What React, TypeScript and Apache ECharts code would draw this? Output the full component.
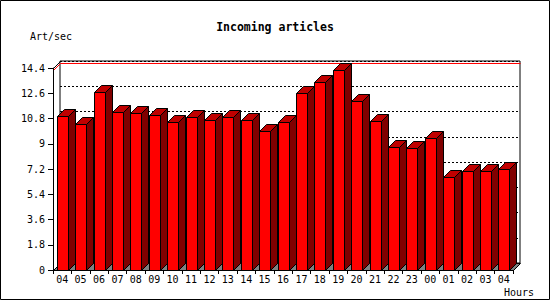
import React, { useEffect, useRef } from "react";
import * as echarts from "echarts";

const hours = ["04","05","06","07","08","09","10","11","12","13","14","15","16","17","18","19","20","21","22","23","00","01","02","03","04"];
const artPerSec = [10.98,10.39,12.67,11.24,11.17,11.03,10.55,10.89,10.67,10.89,10.67,9.89,10.53,12.6,13.38,14.24,12.03,10.6,8.75,8.68,9.39,6.65,7.08,7.08,7.22];
const yTicks = ["0","1.8","3.6","5.4","7.2","9","10.8","12.6","14.4"];
const titleText = "Incoming articles";
const yName = "Art/sec";
const xName = "Hours";

const DX = 7;
const DY = -7;
const MONO = "'DejaVu Sans Mono', 'Liberation Mono', monospace";

const px = (v: number) => Math.round(v) + 0.5;

export default function App() {
  const ref = useRef<HTMLDivElement>(null);
  useEffect(() => {
    const chart = echarts.init(ref.current!, null, { renderer: "svg" });
    const maxVal = Math.max(...artPerSec);
    const option: any = {
      animation: false,
      backgroundColor: "#fff",
      grid: [
        { left: 53, top: 68, width: 460, height: 202, containLabel: false },
        { left: 60, top: 61, width: 460, height: 202, show: true, borderColor: "#000", borderWidth: 1, backgroundColor: "transparent", z: 0 },
      ],
      xAxis: [
        {
          type: "category", gridIndex: 0, data: hours, boundaryGap: true, z: 10,
          axisLine: { show: true, lineStyle: { color: "#000", width: 1 } },
          axisTick: { show: true, length: 4, lineStyle: { color: "#000" }, interval: 0 },
          axisLabel: { interval: 0, color: "#000", fontFamily: MONO, fontSize: 10, margin: 4 },
          splitLine: { show: false },
        },
        {
          type: "category", gridIndex: 1, data: hours, boundaryGap: true, show: false,
        },
      ],
      yAxis: [
        {
          type: "value", gridIndex: 0, min: 0, max: 14.4, interval: 1.8, z: 10,
          axisLine: { show: true, lineStyle: { color: "#000", width: 1 } },
          axisTick: { show: true, length: 5, lineStyle: { color: "#000" } },
          axisLabel: {
            color: "#000", fontFamily: MONO, fontSize: 10, margin: 8,
            formatter: (v: number) => yTicks[Math.round(v / 1.8)] ?? String(v),
          },
          splitLine: { show: false },
        },
        {
          type: "value", gridIndex: 1, min: 0, max: 14.4, interval: 1.8,
          axisLine: { show: false }, axisTick: { show: false }, axisLabel: { show: false },
          splitLine: { show: true, lineStyle: { color: "#000", width: 1, type: [2, 2] } },
        },
      ],
      graphic: [
        { type: "rect", shape: { x: 0.5, y: 0.5, width: 549, height: 299 }, style: { fill: "none", stroke: "#000", lineWidth: 1 }, z: 100 },
        { type: "text", x: 275, y: 27, style: { text: titleText, fontFamily: MONO, fontWeight: "bold", fontSize: 11.5, fill: "#000", textAlign: "center", textVerticalAlign: "middle" } },
        { type: "text", x: 30, y: 36, style: { text: yName, fontFamily: MONO, fontSize: 10, fill: "#000", textAlign: "left", textVerticalAlign: "middle" } },
        { type: "text", x: 504, y: 292, style: { text: xName, fontFamily: MONO, fontSize: 10, fill: "#000", textAlign: "left", textVerticalAlign: "middle" } },
      ],
      series: [
        {
          type: "custom", xAxisIndex: 0, yAxisIndex: 0, z: 1,
          data: [[0, maxVal]],
          renderItem: (params: any, api: any) => {
            const cs = params.coordSys;
            const x0 = px(cs.x), x1 = px(cs.x + cs.width);
            const yb = px(cs.y + cs.height), yt = px(cs.y);
            const ym = px(api.coord([0, api.value(1)])[1]);
            return {
              type: "group",
              children: [
                { type: "polygon", shape: { points: [[x0, yb], [x1, yb], [x1 + DX, yb + DY], [x0 + DX, yb + DY]] }, style: { fill: "#808080", stroke: "#000", lineWidth: 1 } },
                { type: "line", shape: { x1: x0, y1: yt, x2: x0 + DX, y2: yt + DY }, style: { stroke: "#000", lineWidth: 1 } },
                { type: "polyline", shape: { points: [[x0, ym], [x0 + DX, ym + DY], [x1 + DX, ym + DY]] }, style: { stroke: "#ff0000", lineWidth: 1, fill: "none" } },
              ],
            };
          },
        },
        {
          type: "custom", xAxisIndex: 0, yAxisIndex: 0, z: 3,
          data: artPerSec.map((v, i) => [i, v]),
          encode: { x: 0, y: 1 },
          renderItem: (params: any, api: any) => {
            const i = api.value(0);
            const v = api.value(1);
            const top = api.coord([i, v]);
            const bot = api.coord([i, 0]);
            const xl = px(top[0] - 5.5);
            const xr = xl + 11;
            const yt = px(top[1]);
            const yb = px(bot[1]);
            const stroke = { stroke: "#000", lineWidth: 1 };
            return {
              type: "group",
              children: [
                { type: "polygon", shape: { points: [[xr, yt], [xr + DX, yt + DY], [xr + DX, yb + DY], [xr, yb]] }, style: { fill: "#800000", ...stroke } },
                { type: "polygon", shape: { points: [[xl, yt], [xl + DX, yt + DY], [xr + DX, yt + DY], [xr, yt]] }, style: { fill: "#c00000", ...stroke } },
                { type: "rect", shape: { x: xl, y: yt, width: 11, height: yb - yt }, style: { fill: "#ff0000", ...stroke } },
              ],
            };
          },
        },
      ],
    };
    chart.setOption(option);
    return () => chart.dispose();
  }, []);
  return <div ref={ref} style={{ position: "fixed", left: 0, top: 0, width: 550, height: 300, background: "#fff" }} />;
}
